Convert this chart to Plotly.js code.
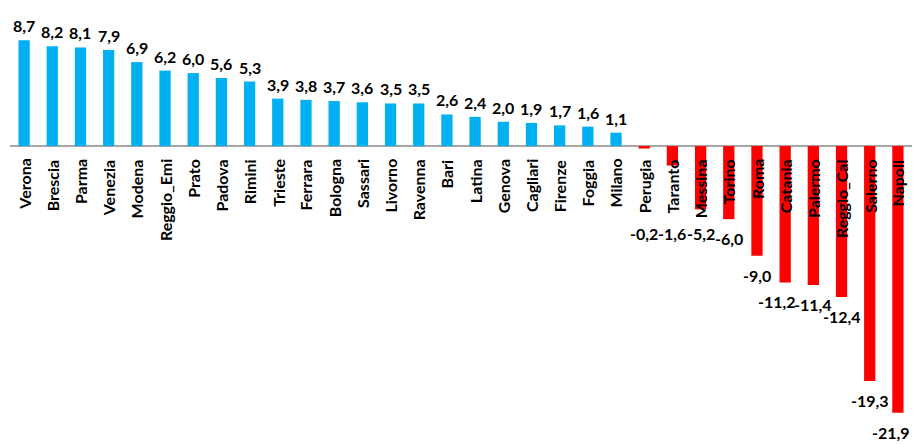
<!DOCTYPE html>
<html>
<head>
<meta charset="utf-8">
<script src="https://cdn.plot.ly/plotly-3.0.1.min.js"></script>
<style>html,body{margin:0;padding:0;background:#fff;}#chart{width:914px;height:444px;}</style>
</head>
<body>
<div id="chart"></div>
<script>
const cities = ["Verona","Brescia","Parma","Venezia","Modena","Reggio_Emi","Prato","Padova","Rimini","Trieste","Ferrara","Bologna","Sassari","Livorno","Ravenna","Bari","Latina","Genova","Cagliari","Firenze","Foggia","Milano","Perugia","Taranto","Messina","Torino","Roma","Catania","Palermo","Reggio_Cal","Salerno","Napoli"];
const values = [8.7,8.2,8.1,7.9,6.9,6.2,6.0,5.6,5.3,3.9,3.8,3.7,3.6,3.5,3.5,2.6,2.4,2.0,1.9,1.7,1.6,1.1,-0.2,-1.6,-5.2,-6.0,-9.0,-11.2,-11.4,-12.4,-19.3,-21.9];

const BLUE = "#00B0F0", RED = "#FF0000";
const FONT = "Lato, 'Open Sans', sans-serif";
const fmt = v => v.toFixed(1).replace(".", ",");

const annotations = [];
cities.forEach((c, i) => {
  const v = values[i];
  annotations.push({
    x: c, y: 0, xref: "x", yref: "y", text: c, showarrow: false,
    textangle: -90, xanchor: "center", yanchor: "top", yshift: -11,
    font: {family: FONT, size: 16, color: "#000", weight: "bold"}
  });
  if (v >= 0) {
    annotations.push({
      x: c, y: v, xref: "x", yref: "y", text: fmt(v), showarrow: false,
      xanchor: "center", yanchor: "bottom", yshift: 3,
      font: {family: FONT, size: 16, color: "#000", weight: "bold"}
    });
  } else {
    const ly = Math.min(v, -5.6);
    // nudge left when the next negative label sits at nearly the same depth
    const nv = values[i + 1];
    const crowd = nv !== undefined && nv < 0 && Math.abs(Math.min(nv, -5.6) - ly) < 1;
    const last = i === values.length - 1;
    annotations.push({
      x: c, y: ly, xref: "x", yref: "y", text: fmt(v), showarrow: false,
      xanchor: last ? "right" : "center", xshift: last ? 14 : (crowd && Math.abs(v) > 10 ? -8 : 0),
      yanchor: "top", yshift: -8,
      font: {family: FONT, size: 16, color: "#000", weight: "bold"}
    });
  }
});

const trace = {
  type: "bar", x: cities, y: values,
  marker: {color: values.map(v => v >= 0 ? BLUE : RED), line: {width: 0}},
  hoverinfo: "x+y"
};

const layout = {
  width: 914, height: 444,
  margin: {l: 10, r: 2, t: 0, b: 0},
  paper_bgcolor: "#fff", plot_bgcolor: "#fff",
  bargap: 0.6,
  showlegend: false,
  xaxis: {showticklabels: false, ticks: "", showgrid: false, zeroline: false, showline: false, fixedrange: true},
  yaxis: {range: [-24.47, 12], showticklabels: false, ticks: "", showgrid: false,
          zeroline: true, zerolinecolor: "#A6A6A6", zerolinewidth: 1.5, showline: false, fixedrange: true},
  annotations: annotations
};

Plotly.newPlot("chart", [trace], layout, {displayModeBar: false, staticPlot: true});
</script>
</body>
</html>
